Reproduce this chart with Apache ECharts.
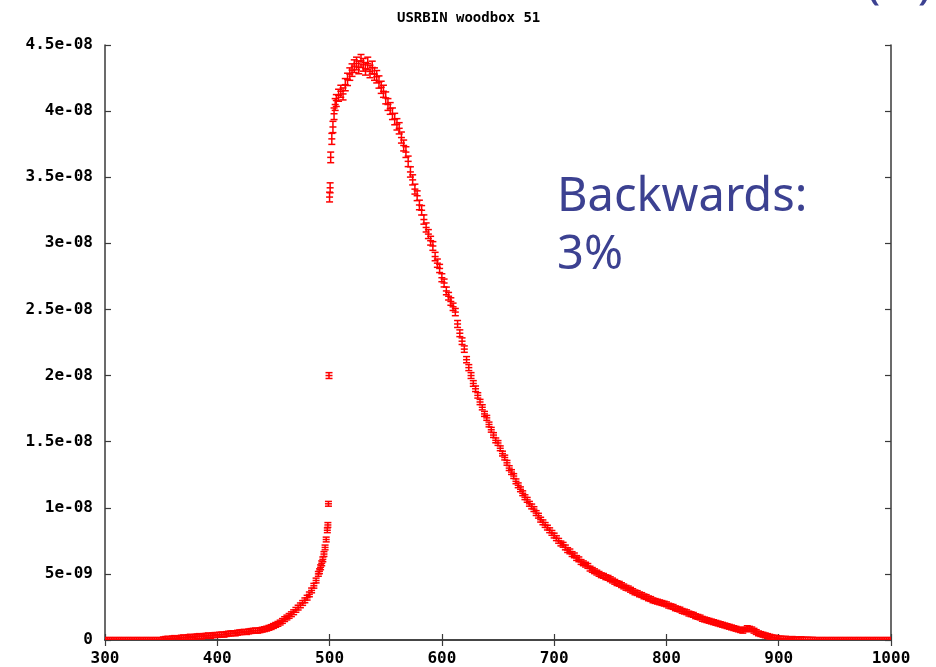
<!DOCTYPE html>
<html>
<head>
<meta charset="utf-8">
<script src="https://cdn.jsdelivr.net/npm/echarts@6/dist/echarts.min.js"></script>
<style>html,body{margin:0;padding:0;background:#fff}#c{width:936px;height:667px}</style>
</head>
<body>
<div id="c"></div>
<script>
// Bin centres (x) and bin contents in units of 1e-9
const xs = [
 300,302,304,306,308,310,312,314,316,318,320,322,324,326,328,330,332,334,336,338,340,342,344,346,348,350,
 352,354,356,358,360,362,364,366,368,370,372,374,376,378,380,382,384,386,388,390,392,394,396,398,
 400,402,404,406,408,410,412,414,416,418,420,422,424,426,428,430,432,434,436,438,440,
 442,444,446,448,450,452,454,456,458,460,462,464,466,468,470,472,474,476,478,480,482,484,486,488,
 490,491,492,493,494,495,496,497,498,498.5,499,499.5,500,500.5,501,502,503,504,505,
 506,508,510,512,514,516,518,520,522,524,526,528,530,532,534,536,538,540,542,544,546,548,550,552,554,556,558,560,
 562,564,566,568,570,572,574,576,578,580,582,584,586,588,590,592,594,596,598,600,
 602,604,606,608,610,612,614,616,618,620,622,624,626,628,630,632,634,636,638,640,
 642,644,646,648,650,652,654,656,658,660,662,664,666,668,670,672,674,676,678,680,
 682,684,686,688,690,692,694,696,698,
 700,702,704,706,708,710,712,714,716,718,720,722,724,726,728,730,732,734,736,738,
 740,742,744,746,748,750,752,754,756,758,760,762,764,766,768,770,772,774,776,778,
 780,782,784,786,788,790,792,794,796,798,800,802,804,806,808,810,812,814,816,818,
 820,822,824,826,828,830,832,834,836,838,840,842,844,846,848,850,852,854,856,858,
 860,862,864,866,868,870,872,874,876,878,880,882,884,886,888,890,892,894,896,898,
 900,902,904,906,908,910,912,914,916,918,920,922,924,926,928,930,
 932,934,936,938,940,942,944,946,948,950,952,954,956,958,960,962,964,966,968,970,
 972,974,976,978,980,982,984,986,988,990,992,994,996,998,1000
];
const ys = [
 0,0,0,0,0,0,0,0,0,0,0,0,0,0,0,0,0,0,0,0,0,0,0,0,0,0,
 0.05,0.08,0.1,0.06,0.12,0.15,0.1,0.14,0.18,0.2,0.15,0.22,0.25,0.2,0.24,0.28,0.3,0.26,0.3,0.32,0.35,0.3,0.36,0.38,
 0.38,0.4,0.42,0.4,0.45,0.48,0.5,0.52,0.5,0.55,0.58,0.6,0.62,0.6,0.65,0.68,0.7,0.72,0.7,0.74,0.78,
 0.82,0.86,0.92,0.98,1.06,1.14,1.22,1.32,1.44,1.58,1.7,1.82,1.95,2.1,2.28,2.45,2.62,2.8,3.0,3.2,3.45,3.75,4.1,4.5,
 5.0,5.2,5.5,5.8,6.1,6.5,7.0,7.6,8.3,8.7,10.3,20.0,33.5,34.2,36.5,37.9,38.8,39.8,40.5,
 40.8,41.2,41.5,41.3,42.0,42.4,42.8,43.1,43.4,43.6,43.3,43.8,43.5,43.2,43.6,43.0,43.3,42.8,42.6,42.2,41.8,41.5,41.0,40.5,40.2,39.8,39.4,39.0,
 38.7,38.0,37.4,36.9,36.2,35.4,34.8,34.1,33.6,32.9,32.5,31.8,31.2,30.7,30.2,29.8,29.0,28.5,28.1,27.4,
 27.0,26.4,26.0,25.6,25.2,24.8,23.9,23.2,22.6,22.0,21.2,20.6,20.0,19.4,19.0,18.5,18.0,17.6,17.1,16.8,
 16.3,15.9,15.5,15.1,14.9,14.5,14.1,13.8,13.4,13.0,12.7,12.4,12.0,11.7,11.4,11.1,10.8,10.6,10.3,10.1,
 9.9,9.6,9.4,9.1,8.9,8.7,8.5,8.3,8.1,
 7.9,7.7,7.5,7.3,7.2,7.0,6.8,6.7,6.5,6.4,6.2,6.1,5.9,5.8,5.7,5.6,5.4,5.3,5.2,5.1,
 5.0,4.9,4.85,4.75,4.7,4.6,4.5,4.4,4.3,4.25,4.15,4.05,3.95,3.9,3.8,3.7,3.6,3.55,3.45,3.4,
 3.3,3.25,3.15,3.1,3.0,2.95,2.9,2.85,2.8,2.75,2.7,2.6,2.55,2.5,2.4,2.35,2.3,2.2,2.15,2.1,
 2.0,1.95,1.9,1.8,1.75,1.7,1.6,1.55,1.5,1.45,1.4,1.35,1.3,1.25,1.2,1.15,1.1,1.05,1.0,0.95,
 0.9,0.85,0.8,0.75,0.7,0.8,0.9,0.85,0.8,0.7,0.6,0.5,0.45,0.4,0.35,0.3,0.25,0.2,0.18,0.15,
 0.12,0.1,0.08,0.1,0.06,0.05,0.08,0.04,0.05,0.03,0.06,0.02,0.03,0.02,0.01,0.02,
 0,0,0,0,0,0,0,0,0,0,0,0,0,0,0,0,0,0,0,0,
 0,0,0,0,0,0,0,0,0,0,0,0,0,0,0
];
// statistical uncertainty: relative error with a floor (units 1e-9)
const relErr = 0.011;
const minErr = 0.18;
const xTicks = [300, 1000, 100];
const yTicks = [0, 45, 5]; // in 1e-9 units
const titleText = 'USRBIN woodbox 51';
const noteLines = ['Backwards:', '3%'];

const data = xs.map((x, i) => [x, ys[i], Math.max(minErr, ys[i] * relErr)]);

function fmtY(v) {
  if (v === 0) return '0';
  const s = Number((v * 1e-9).toPrecision(3)).toExponential();
  return s.replace(/e([+-])(\d)$/, 'e$10$2');
}

const chart = echarts.init(document.getElementById('c'), null, {renderer: 'canvas'});
const axisCol = '#3a3a3a';
const lblFont = {fontFamily: 'DejaVu Sans Mono', fontWeight: 'bold', fontSize: 16, color: '#000'};
const errStyle = {stroke: '#ff0000', lineWidth: 1.5};

chart.setOption({
  animation: false,
  backgroundColor: '#fff',
  title: {
    text: titleText, left: 392, top: 6,
    textStyle: {fontFamily: 'DejaVu Sans Mono', fontWeight: 'bold', fontSize: 14, color: '#000'}
  },
  grid: {left: 105, right: 45, top: 45, bottom: 23, containLabel: false},
  xAxis: [
    {type: 'value', position: 'bottom', min: xTicks[0], max: xTicks[1], interval: xTicks[2],
     axisLine: {lineStyle: {color: axisCol, width: 1.5}},
     axisTick: {inside: true, length: 6, lineStyle: {color: axisCol, width: 1.2}},
     axisLabel: Object.assign({margin: 11, formatter: v => String(v)}, lblFont),
     splitLine: {show: false}},
    {type: 'value', position: 'top', min: xTicks[0], max: xTicks[1], interval: xTicks[2],
     axisLine: {lineStyle: {color: axisCol, width: 1.5}},
     axisTick: {inside: true, length: 6, lineStyle: {color: axisCol, width: 1.2}},
     axisLabel: {show: false}, splitLine: {show: false}}
  ],
  yAxis: [
    {type: 'value', position: 'left', min: yTicks[0], max: yTicks[1], interval: yTicks[2],
     axisLine: {show: true, lineStyle: {color: axisCol, width: 1.5}},
     axisTick: {show: true, inside: true, length: 6, lineStyle: {color: axisCol, width: 1.2}},
     axisLabel: Object.assign({margin: 12, formatter: fmtY}, lblFont),
     splitLine: {show: false}},
    {type: 'value', position: 'right', min: yTicks[0], max: yTicks[1], interval: yTicks[2],
     axisLine: {show: true, lineStyle: {color: axisCol, width: 1.5}},
     axisTick: {show: true, inside: true, length: 6, lineStyle: {color: axisCol, width: 1.2}},
     axisLabel: {show: false}, splitLine: {show: false}}
  ],
  series: [{
    type: 'custom',
    xAxisIndex: 0, yAxisIndex: 0,
    clip: true,
    encode: {x: 0, y: 1},
    data: data,
    renderItem: function (params, api) {
      const x = api.value(0), y = api.value(1), e = api.value(2);
      const p = api.coord([x, y]);
      const t = api.coord([x, y + e]);
      const b = api.coord([x, y - e]);
      const w = 3.5;
      return {
        type: 'group',
        children: [
          {type: 'line', shape: {x1: p[0], y1: t[1], x2: p[0], y2: b[1]}, style: errStyle},
          {type: 'line', shape: {x1: p[0] - w, y1: t[1], x2: p[0] + w, y2: t[1]}, style: errStyle},
          {type: 'line', shape: {x1: p[0] - w, y1: b[1], x2: p[0] + w, y2: b[1]}, style: errStyle},
          {type: 'line', shape: {x1: p[0] - w, y1: p[1], x2: p[0] + w, y2: p[1]}, style: errStyle}
        ]
      };
    }
  }],
  graphic: [
    {type: 'text', left: 557, top: 174, z: 10,
     style: {text: noteLines[0], fontFamily: 'Noto Sans', fontSize: 47, fill: '#3c4191'}},
    {type: 'text', left: 557, top: 232, z: 10,
     style: {text: noteLines[1], fontFamily: 'Noto Sans', fontSize: 47, fill: '#3c4191'}},
    {type: 'text', left: 866, top: -40, z: 10,
     style: {text: '(   )', fontFamily: 'Noto Sans', fontSize: 48, fill: '#3c4191'}}
  ]
});
</script>
</body>
</html>
